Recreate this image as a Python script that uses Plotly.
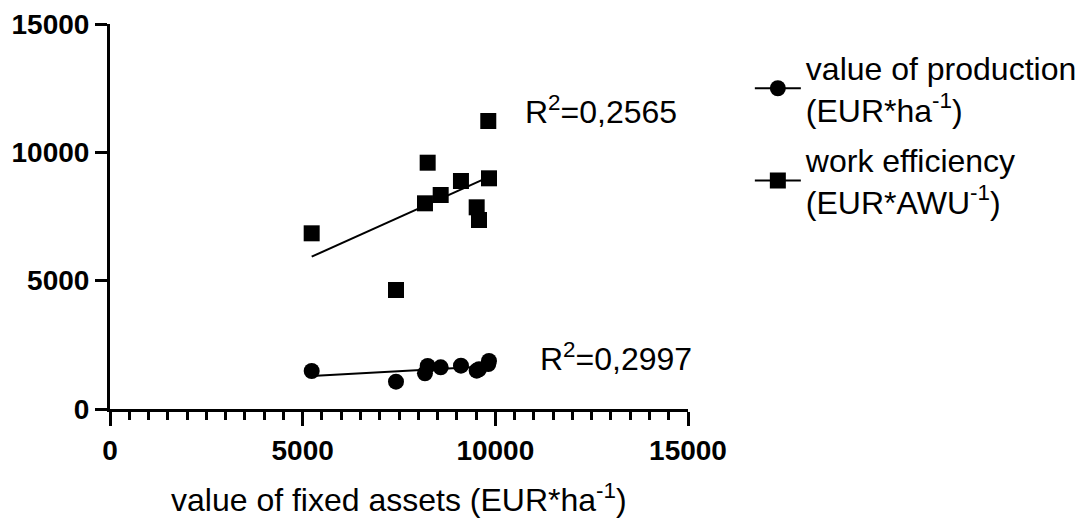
import numpy as np
import plotly.graph_objects as go

# Data
fixed_assets = [5234, 7422, 8174, 8244, 8582, 9108, 9516, 9576, 9817, 9835]
production = [1480, 1064, 1391, 1675, 1623, 1688, 1493, 1550, 1750, 1870]
work_eff = [6845, 4636, 8014, 9596, 8337, 8883, 7858, 7363, 11220, 8988]

r2_prod_label = "R<sup>2</sup>=0,2997"
r2_work_label = "R<sup>2</sup>=0,2565"
legend_prod = "value of production<br>(EUR*ha<sup>-1</sup>)"
legend_work = "work efficiency<br>(EUR*AWU<sup>-1</sup>)"
x_title = "value of fixed assets (EUR*ha<sup>-1</sup>)"
tick_vals = [0, 5000, 10000, 15000]
tick_text = ["0", "5000", "10000", "15000"]

FONT = "Liberation Sans, Arial, sans-serif"

x = np.array(fixed_assets, dtype=float)
xs = np.array([x.min(), x.max()])

fig = go.Figure()

for yvals in (production, work_eff):
    k, b = np.polyfit(x, np.array(yvals, dtype=float), 1)
    fig.add_trace(go.Scatter(x=xs, y=k * xs + b, mode="lines",
                             line=dict(color="black", width=2),
                             showlegend=False, hoverinfo="skip"))

fig.add_trace(go.Scatter(x=fixed_assets, y=production, mode="markers",
                         marker=dict(symbol="circle", size=16, color="black"),
                         showlegend=False))
fig.add_trace(go.Scatter(x=fixed_assets, y=work_eff, mode="markers",
                         marker=dict(symbol="square", size=16, color="black"),
                         showlegend=False))

# legend entries
fig.add_trace(go.Scatter(x=[None], y=[None], mode="lines+markers", name=legend_prod,
                         legendgroup="prod",
                         line=dict(color="black", width=2),
                         marker=dict(symbol="circle", size=16, color="black")))
fig.add_trace(go.Scatter(x=[None], y=[None], mode="lines+markers", name=legend_work,
                         legendgroup="work",
                         line=dict(color="black", width=2),
                         marker=dict(symbol="square", size=16, color="black")))

fig.add_annotation(x=10717, y=11650, text=r2_work_label, showarrow=False,
                   xanchor="left", yanchor="middle",
                   font=dict(family=FONT, size=32, color="black"))
fig.add_annotation(x=11107, y=2026, text=r2_prod_label, showarrow=False,
                   xanchor="left", yanchor="middle",
                   font=dict(family=FONT, size=32, color="black"))

# x-axis title
fig.add_annotation(x=0.5, y=-0.23, xref="paper", yref="paper", text=x_title,
                   showarrow=False, xanchor="center", yanchor="middle",
                   font=dict(family=FONT, size=32, color="black"))

fig.update_layout(
    width=1087, height=520,
    margin=dict(l=102, r=407, t=16, b=119),
    paper_bgcolor="white", plot_bgcolor="white",
    font=dict(family=FONT, color="black"),
    legend=dict(x=1.107, y=0.958, xanchor="left", yanchor="top",
                itemwidth=46, traceorder="grouped", tracegroupgap=6,
                font=dict(family=FONT, size=32, color="black"),
                bgcolor="rgba(0,0,0,0)"),
)
fig.update_xaxes(range=[0, 15000], tickvals=tick_vals, ticktext=tick_text,
                 showgrid=False, zeroline=False, automargin=False,
                 showline=True, linecolor="black", linewidth=3,
                 ticks="outside", ticklen=14, tickwidth=3, tickcolor="black",
                 minor=dict(dtick=500, ticks="outside", ticklen=8, tickwidth=3, tickcolor="black", showgrid=False),
                 tickfont=dict(family=FONT, size=28, color="black", weight="bold"),
                 ticklabelstandoff=0)
fig.update_yaxes(range=[0, 15000], tickvals=tick_vals, ticktext=tick_text,
                 showgrid=False, zeroline=False, automargin=False,
                 showline=True, linecolor="black", linewidth=3,
                 ticks="outside", ticklen=12, tickwidth=3, tickcolor="black",
                 tickfont=dict(family=FONT, size=28, color="black", weight="bold"))

fig.write_html("out.html")
